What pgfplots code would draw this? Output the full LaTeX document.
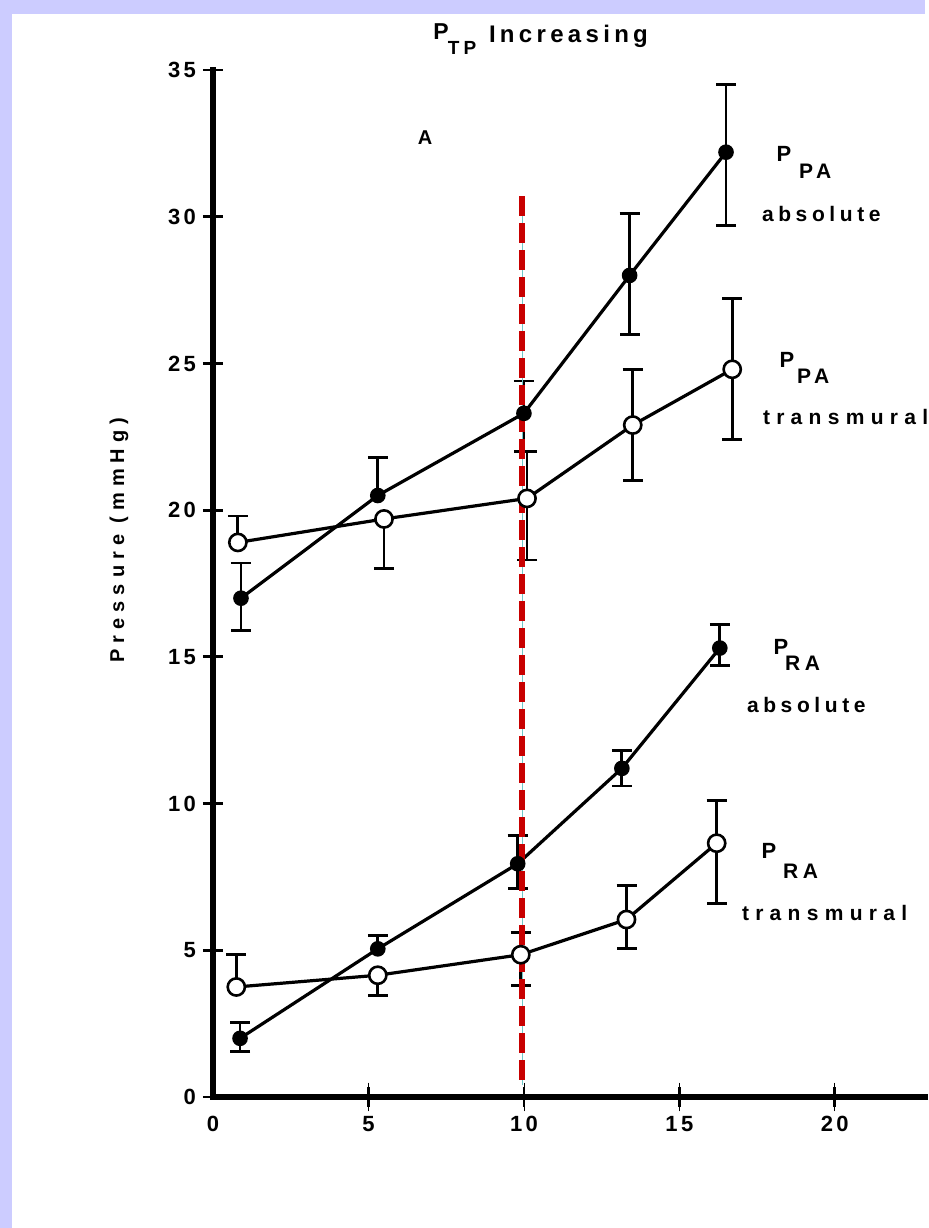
\documentclass[border=0pt]{standalone}
\usepackage{fontspec}
\setmainfont{Liberation Sans}
\newfontfamily\lsp[LetterSpace=22]{Liberation Sans}
\newfontfamily\wsp[LetterSpace=30]{Liberation Sans}
\newfontfamily\tsp[LetterSpace=15]{Liberation Sans}
\newfontfamily\hsp[LetterSpace=18]{Liberation Sans}
\usepackage{pgfplots}
\pgfplotsset{compat=1.18}
\definecolor{lav}{RGB}{204,204,255}
\definecolor{dred}{RGB}{200,0,0}
\definecolor{cy}{RGB}{110,200,200}

% main series
\pgfplotstableread{
x y
0.9 17.0
5.3 20.5
10.0 23.3
13.4 28.0
16.5 32.2
}\ppaabs
\pgfplotstableread{
x y
0.8 18.9
5.5 19.7
10.1 20.4
13.5 22.9
16.7 24.8
}\ppatr
\pgfplotstableread{
x y
0.87 2.0
5.3 5.05
9.8 7.95
13.15 11.2
16.3 15.3
}\raabs
\pgfplotstableread{
x y
0.75 3.75
5.3 4.15
9.9 4.85
13.3 6.05
16.2 8.65
}\ratr
% error bars (upper / lower parts)
\pgfplotstableread{
x y e
0.9 17.0 1.2
5.3 20.5 1.3
10.0 23.3 1.1
13.4 28.0 2.1
16.5 32.2 2.3
}\ppaabsP
\pgfplotstableread{
x y e
0.9 17.0 1.1
10.0 23.3 1.3
13.4 28.0 2.0
16.5 32.2 2.5
}\ppaabsM
\pgfplotstableread{
x y e
0.8 18.9 0.9
10.1 20.4 1.6
13.5 22.9 1.9
16.7 24.8 2.4
}\ppatrP
\pgfplotstableread{
x y e
5.5 19.7 1.7
10.1 20.4 2.1
13.5 22.9 1.9
16.7 24.8 2.4
}\ppatrM
\pgfplotstableread{
x y e
0.87 2.0 0.55
5.3 5.05 0.45
9.8 7.95 0.95
13.15 11.2 0.6
16.3 15.3 0.8
}\raabsP
\pgfplotstableread{
x y e
0.87 2.0 0.45
9.8 7.95 0.85
13.15 11.2 0.6
16.3 15.3 0.6
}\raabsM
\pgfplotstableread{
x y e
0.75 3.75 1.1
9.9 4.85 0.75
13.3 6.05 1.15
16.2 8.65 1.45
}\ratrP
\pgfplotstableread{
x y e
5.3 4.15 0.7
9.9 4.85 1.05
13.3 6.05 1.0
16.2 8.65 2.05
}\ratrM

\pgfplotsset{
  errbase/.style={draw=none, mark=none, forget plot,
    error bars/y explicit,
    error bars/error bar style={draw=black, solid, line width=1.4pt},
    error bars/error mark options={draw=black, rotate=90, mark size=5pt, line width=1.4pt}},
  errP/.style={errbase, error bars/y dir=plus},
  errM/.style={errbase, error bars/y dir=minus},
  filledser/.style={black, line width=1.6pt, mark=*, mark size=3.1pt, mark options={solid, fill=black}},
  openser/.style={black, line width=1.6pt, mark=*, mark size=4.3pt, mark options={solid, fill=white, draw=black, line width=1.3pt}},
}

\begin{document}
\begin{tikzpicture}
\begin{scope}[x=0.5pt,y=-0.5pt]
\useasboundingbox (0,0) rectangle (925,1228);
\fill[lav] (0,0) rectangle (925,1228);
\fill[white] (12,14) rectangle (925,1228);
\end{scope}
\begin{axis}[
  at={(106.5pt,-548.5pt)}, anchor=south west,
  scale only axis, width=356pt, height=513.5pt,
  xmin=0, xmax=22.9, ymin=0, ymax=35,
  axis lines=left,
  axis line style={-, line width=3.2pt, line cap=rect},
  xtick={0,5,10,15,20}, ytick={0,5,10,15,20,25,30,35},
  tick align=center, major tick length=10pt,
  tick style={line width=1.4pt, black},
  xtick style={draw=none},
  /pgf/number format/assume math mode=true,
  ticklabel style={font=\tsp\bfseries\fontsize{11}{13}\selectfont},
  yticklabel style={xshift=0pt},
  xticklabel style={yshift=-1pt},
  clip=false,
]
% visible x ticks (except at 0)
\addplot[errbase, error bars/y dir=both, error bars/error mark options={draw=none}, error bars/error bar style={draw=black, line width=1.4pt}] table[x=x,y=y,y error=e]{
x y e
5 0 0.35
10 0 0.35
15 0 0.35
20 0 0.35
};
% error bars
\addplot[errP] table[x=x,y=y,y error=e]{\ppaabsP};
\addplot[errM] table[x=x,y=y,y error=e]{\ppaabsM};
\addplot[errP] table[x=x,y=y,y error=e]{\ppatrP};
\addplot[errM] table[x=x,y=y,y error=e]{\ppatrM};
\addplot[errP] table[x=x,y=y,y error=e]{\raabsP};
\addplot[errM] table[x=x,y=y,y error=e]{\raabsM};
\addplot[errP] table[x=x,y=y,y error=e]{\ratrP};
\addplot[errM] table[x=x,y=y,y error=e]{\ratrM};
% series
\addplot[filledser] table[x=x,y=y]{\ppaabs};
\addplot[openser] table[x=x,y=y]{\ppatr};
\addplot[filledser] table[x=x,y=y]{\raabs};
\addplot[openser] table[x=x,y=y]{\ratr};
% vertical marker line
\addplot[cy, line width=0.6pt] coordinates {(9.95,0.4) (9.95,30.7)};
\addplot[dred, line width=3pt, dash pattern=on 10pt off 3.5pt] coordinates {(9.95,30.7) (9.95,0.4)};
\end{axis}
\begin{scope}[x=0.5pt,y=-0.5pt, every node/.style={inner sep=0pt, outer sep=0pt}]
% title
\node at (441,32) {\bfseries\fontsize{11.5}{13}\selectfont P};
\node at (462,48) {\lsp\bfseries\fontsize{9.5}{11}\selectfont TP};
\node[anchor=west] at (489,36) {\hsp\bfseries\fontsize{12}{14}\selectfont Increasing};
% panel letter
\node at (425,138) {\bfseries\fontsize{10}{11}\selectfont A};
% y label
\node[rotate=90] at (119,540) {\wsp\bfseries\fontsize{10}{12}\selectfont Pressure (mmHg)};
% series labels
\node at (784,154) {\bfseries\fontsize{11}{12}\selectfont P};
\node[anchor=west] at (799,171) {\lsp\bfseries\fontsize{10.5}{12}\selectfont PA};
\node[anchor=west] at (762,214) {\lsp\bfseries\fontsize{10.5}{12}\selectfont absolute};
\node at (787,360) {\bfseries\fontsize{11}{12}\selectfont P};
\node[anchor=west] at (797,376) {\lsp\bfseries\fontsize{10.5}{12}\selectfont PA};
\node[anchor=west] at (763,417) {\wsp\bfseries\fontsize{10.5}{12}\selectfont transmural};
\node at (781,647) {\bfseries\fontsize{11}{12}\selectfont P};
\node[anchor=west] at (785,663) {\lsp\bfseries\fontsize{10.5}{12}\selectfont RA};
\node[anchor=west] at (747,705) {\lsp\bfseries\fontsize{10.5}{12}\selectfont absolute};
\node at (769,851) {\bfseries\fontsize{11}{12}\selectfont P};
\node[anchor=west] at (783,871) {\lsp\bfseries\fontsize{10.5}{12}\selectfont RA};
\node[anchor=west] at (742,913) {\wsp\bfseries\fontsize{10.5}{12}\selectfont transmural};
\end{scope}
\end{tikzpicture}
\end{document}
